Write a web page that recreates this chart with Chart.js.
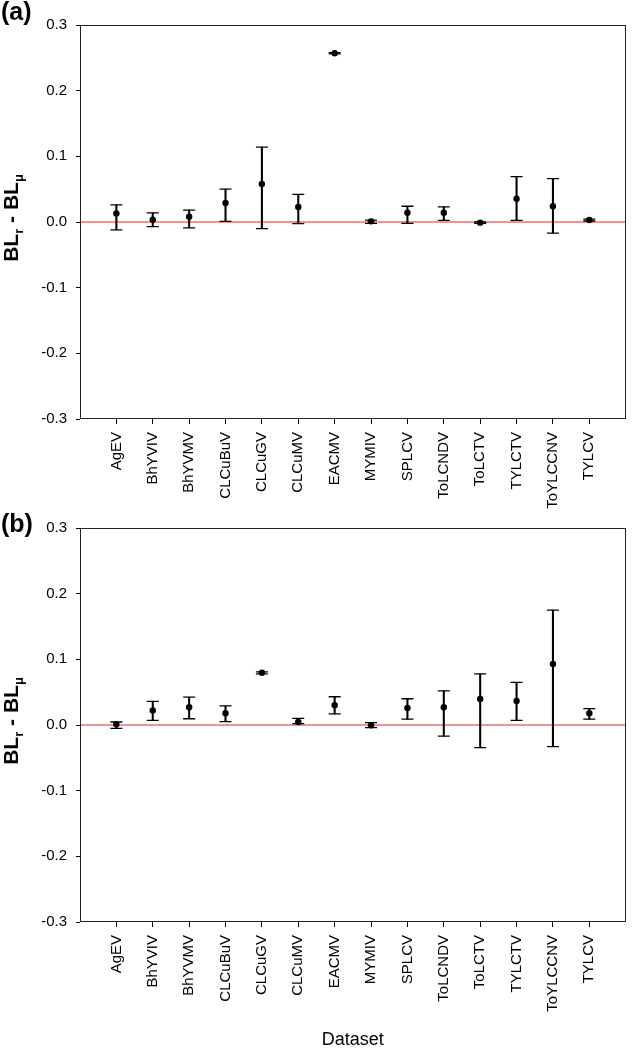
<!DOCTYPE html>
<html><head><meta charset="utf-8">
<script src="https://cdn.jsdelivr.net/npm/chart.js@4.4.1/dist/chart.umd.min.js"></script>
<style>
html,body{margin:0;padding:0;background:#fff;}
body{width:633px;height:1051px;position:relative;overflow:hidden;}
canvas{position:absolute;left:0;}
#ca{top:0;} #cb{top:505px;}
</style></head><body>
<canvas id="ca" width="633" height="520" style="width:633px;height:520px"></canvas>
<canvas id="cb" width="633" height="546" style="width:633px;height:546px"></canvas>
<script>
// ---- data ----
const categories = ['AgEV','BhYVIV','BhYVMV','CLCuBuV','CLCuGV','CLCuMV','EACMV','MYMIV','SPLCV','ToLCNDV','ToLCTV','TYLCTV','ToYLCCNV','TYLCV'];
const yTicks = [-0.3, -0.2, -0.1, 0.0, 0.1, 0.2, 0.3];

const meanA  = [0.013, 0.0035, 0.008, 0.029, 0.058, 0.023, 0.257, 0.001, 0.014, 0.014, -0.001, 0.0355, 0.024, 0.003];
const upperA = [0.026, 0.014, 0.018, 0.050, 0.114, 0.042, 0.258, 0.003, 0.024, 0.023, 0.000, 0.069, 0.066, 0.0045];
const lowerA = [-0.012, -0.007, -0.009, 0.001, -0.010, -0.0025, 0.256, -0.002, -0.002, 0.0025, -0.002, 0.0025, -0.017, 0.0015];

const meanB  = [0.001, 0.022, 0.027, 0.018, 0.0795, 0.0045, 0.030, -0.0005, 0.026, 0.027, 0.0395, 0.0365, 0.093, 0.018];
const upperB = [0.0046, 0.036, 0.0425, 0.029, 0.081, 0.010, 0.043, 0.0035, 0.040, 0.052, 0.078, 0.065, 0.175, 0.025];
const lowerB = [-0.005, 0.007, 0.0095, 0.005, 0.078, 0.002, 0.017, -0.004, 0.009, -0.017, -0.0345, 0.007, -0.033, 0.009];

const FONT = '"Liberation Sans", Arial, Helvetica, sans-serif';

function pts(vals){ return vals.map((v,i)=>({x:i+1, y:v})); }

const framePlugin = {
  id:'frame',
  afterDatasetsDraw(chart){
    const {ctx, chartArea:a} = chart;
    ctx.save();
    ctx.strokeStyle = '#222';
    ctx.lineWidth = 1;
    const l = Math.round(a.left)+0.5, t = Math.round(a.top)+0.5;
    const r = Math.round(a.right)-0.5, b = Math.round(a.bottom)-0.5;
    ctx.strokeRect(l, t, r-l, b-t);
    ctx.restore();
  }
};

const labelPlugin = {
  id:'labels',
  afterDraw(chart, args, o){
    const {ctx, chartArea:a} = chart;
    ctx.save();
    ctx.fillStyle = '#000';
    // panel label
    ctx.font = 'bold 25px ' + FONT;
    ctx.textAlign = 'left';
    ctx.textBaseline = 'middle';
    ctx.fillText(o.panel, 1, o.panelY);
    // y title with subscripts
    const big = 'bold 21px ' + FONT, small = 'bold 13px ' + FONT;
    const parts = [['BL',big,0],['r',small,5],[' - ',big,0],['BL',big,0],['\u03bc',small,5]];
    let total = 0;
    parts.forEach(p=>{ ctx.font = p[1]; p.push(ctx.measureText(p[0]).width); total += p[3]; });
    ctx.translate(18, (a.top+a.bottom)/2 - 4);
    ctx.rotate(-Math.PI/2);
    ctx.textBaseline = 'alphabetic';
    let u = -total/2;
    parts.forEach(p=>{ ctx.font = p[1]; ctx.fillText(p[0], u, p[2]); u += p[3]; });
    ctx.restore();
  }
};

function makeChart(id, mean, lower, upper, cfg){
  return new Chart(document.getElementById(id), {
    type:'scatter',
    data:{
      datasets:[
        {type:'line', data:[{x:0,y:0},{x:categories.length+1,y:0}], borderColor:'rgb(222,45,45)', borderWidth:1.2, pointRadius:0, order:10},
        {type:'bar', data:categories.map((c,i)=>({x:i+1, y:[lower[i], upper[i]]})), backgroundColor:'#000', borderWidth:0, barThickness:1.4, order:5},
        {type:'scatter', data:pts(upper).concat(pts(lower)), pointStyle:'line', pointRadius:6, borderColor:'#000', borderWidth:1.3, order:3},
        {type:'scatter', data:pts(mean), pointStyle:'circle', pointRadius:3.2, backgroundColor:'#000', borderWidth:0, order:1}
      ]
    },
    options:{
      responsive:false, animation:false,
      layout:{padding:{left:0, right:5, top:cfg.padTop, bottom:0}},
      plugins:{legend:{display:false}, tooltip:{enabled:false}, labels:{panel:cfg.panel, panelY:cfg.panelY}},
      scales:{
        x:{type:'linear', offset:false, min:0, max:categories.length+1,
          afterBuildTicks(ax){ ax.ticks = categories.map((c,i)=>({value:i+1})); },
          afterFit(ax){ ax.height = cfg.xHeight; },
          border:{display:false},
          grid:{offset:false, drawOnChartArea:false, drawTicks:true, tickLength:5, color:'#000', lineWidth:1},
          ticks:{autoSkip:false, minRotation:90, maxRotation:90, padding:8, color:'#000', font:{family:FONT, size:15},
            callback:(v)=>categories[Math.round(v)-1] || ''},
          title:{display:cfg.showTitle, text:'Dataset', color:'#000', font:{family:FONT, size:18, lineHeight:1.2}, padding:{top:0,bottom:0}}
        },
        y:{type:'linear', min:yTicks[0], max:yTicks[yTicks.length-1],
          afterBuildTicks(ax){ ax.ticks = yTicks.map(v=>({value:v})); },
          afterFit(ax){ ax.width = 80; },
          border:{display:false},
          grid:{offset:false, drawOnChartArea:false, drawTicks:true, tickLength:4, color:'#000', lineWidth:1},
          ticks:{padding:9, color:'#000', font:{family:FONT, size:15},
            callback:(v)=> Math.abs(v)<1e-9 ? '0.0' : v.toFixed(1)}
        }
      }
    },
    plugins:[framePlugin, labelPlugin]
  });
}

makeChart('ca', meanA, lowerA, upperA, {padTop:25, xHeight:101, panel:'(a)', panelY:13, showTitle:false});
makeChart('cb', meanB, lowerB, upperB, {padTop:23, xHeight:129, panel:'(b)', panelY:20, showTitle:true});
</script>
</body></html>
